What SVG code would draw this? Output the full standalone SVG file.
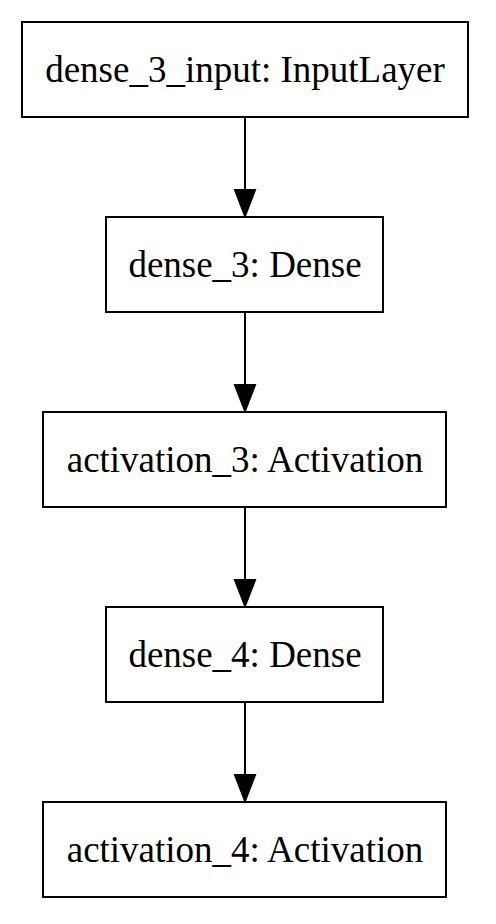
<svg xmlns="http://www.w3.org/2000/svg" width="496" height="924" viewBox="0 0 496 924">
<style>
.box{fill:#fff;stroke:#000;stroke-width:2}
.lbl{font-family:"Liberation Serif","Times New Roman",serif;font-size:37px;fill:#000;text-anchor:middle}
.edge{stroke:#000;stroke-width:2;fill:none}
.head{fill:#000;stroke:#000;stroke-width:2}
</style>
<rect width="496" height="924" fill="#fff"/>
<g id="connectors">
<line class="edge" x1="245" y1="117" x2="245" y2="190"/>
<polygon class="head" points="235,190 255,190 245,216"/>
<line class="edge" x1="245" y1="312" x2="245" y2="385"/>
<polygon class="head" points="235,385 255,385 245,411"/>
<line class="edge" x1="245" y1="507" x2="245" y2="580"/>
<polygon class="head" points="235,580 255,580 245,606"/>
<line class="edge" x1="245" y1="702" x2="245" y2="775"/>
<polygon class="head" points="235,775 255,775 245,801"/>
</g>
<g id="dense_3_input">
<rect class="box" x="22" y="22" width="446" height="95"/>
<text class="lbl" x="245" y="82">dense_3_input: InputLayer</text>
</g>
<g id="dense_3">
<rect class="box" x="106" y="217" width="277" height="95"/>
<text class="lbl" x="245" y="277">dense_3: Dense</text>
</g>
<g id="activation_3">
<rect class="box" x="43" y="412" width="403" height="95"/>
<text class="lbl" x="245" y="472">activation_3: Activation</text>
</g>
<g id="dense_4">
<rect class="box" x="106" y="607" width="277" height="95"/>
<text class="lbl" x="245" y="667">dense_4: Dense</text>
</g>
<g id="activation_4">
<rect class="box" x="43" y="802" width="403" height="95"/>
<text class="lbl" x="245" y="862">activation_4: Activation</text>
</g>
</svg>
